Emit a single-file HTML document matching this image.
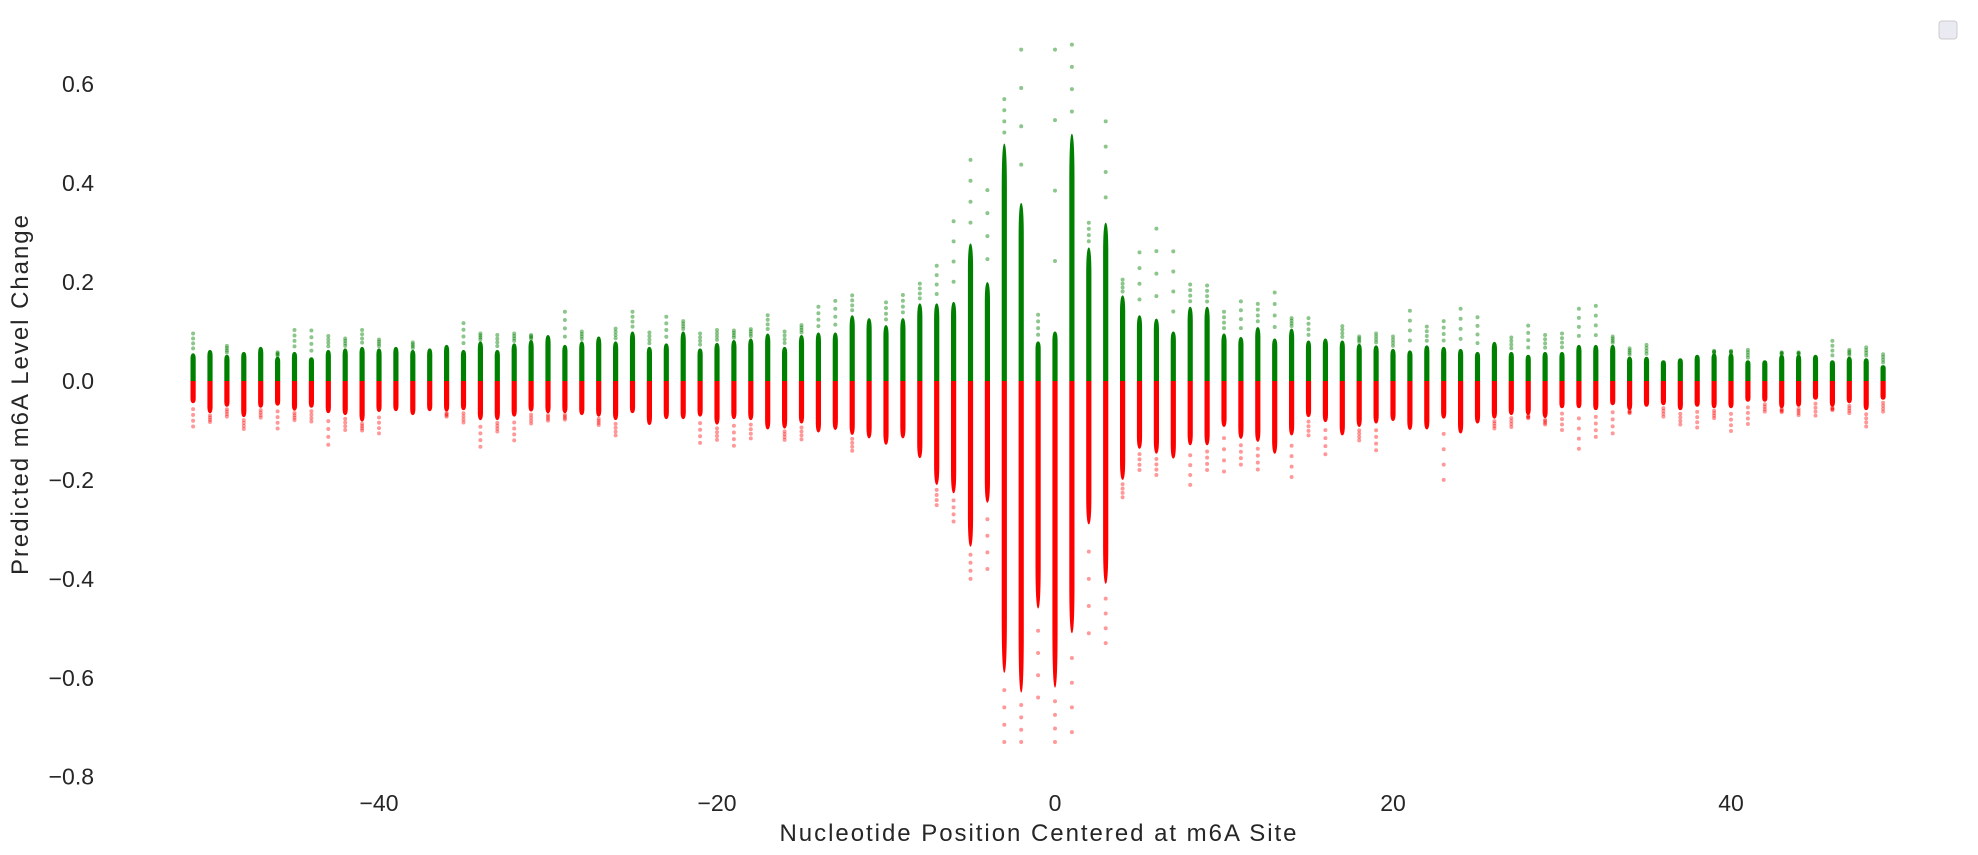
<!DOCTYPE html>
<html><head><meta charset="utf-8"><style>
html,body{margin:0;padding:0;background:#fff;}
svg{display:block;font-family:"Liberation Sans","DejaVu Sans",sans-serif;}
</style></head><body>
<svg id="chart" width="1978" height="855" viewBox="0 0 1978 855" xmlns="http://www.w3.org/2000/svg">
<rect width="1978" height="855" fill="#fff"/>
<g id="yticks"></g>
<g id="xticks"></g>
<g id="marks"></g>
<text x="1038" y="841" font-size="24" fill="#262626" text-anchor="middle" textLength="517">Nucleotide Position Centered at m6A Site</text>
<text transform="translate(28,395) rotate(-90)" font-size="24" fill="#262626" text-anchor="middle" textLength="360">Predicted m6A Level Change</text>
<rect x="1939" y="21" width="18" height="18" rx="3" fill="#eaeaf2" stroke="#cccccc" stroke-width="1"/>
</svg>
<script>
const positions = [-51,-50,-49,-48,-47,-46,-45,-44,-43,-42,-41,-40,-39,-38,-37,-36,-35,-34,-33,-32,-31,-30,-29,-28,-27,-26,-25,-24,-23,-22,-21,-20,-19,-18,-17,-16,-15,-14,-13,-12,-11,-10,-9,-8,-7,-6,-5,-4,-3,-2,-1,0,1,2,3,4,5,6,7,8,9,10,11,12,13,14,15,16,17,18,19,20,21,22,23,24,25,26,27,28,29,30,31,32,33,34,35,36,37,38,39,40,41,42,43,44,45,46,47,48,49];
const denseTop = [.056,.063,.053,.059,.069,.049,.059,.048,.063,.066,.069,.066,.069,.063,.066,.073,.063,.08,.063,.076,.083,.093,.073,.08,.09,.08,.1,.069,.076,.1,.066,.077,.083,.086,.096,.069,.093,.098,.098,.133,.127,.113,.127,.157,.157,.16,.278,.2,.48,.36,.08,.1,.5,.27,.32,.173,.133,.126,.1,.15,.15,.096,.089,.109,.086,.106,.082,.086,.082,.075,.072,.065,.062,.072,.069,.065,.059,.079,.059,.053,.059,.059,.073,.073,.073,.049,.049,.042,.046,.053,.056,.056,.042,.042,.053,.053,.053,.042,.049,.046,.032];
const maxVal = [.096,.063,.071,.059,.071,.058,.103,.102,.091,.086,.103,.084,.069,.078,.066,.073,.117,.096,.093,.096,.093,.096,.14,.1,.09,.106,.14,.098,.13,.121,.096,.103,.102,.105,.133,.1,.113,.15,.162,.173,.127,.159,.174,.197,.233,.323,.447,.386,.57,.67,.134,.67,.68,.32,.525,.205,.26,.308,.262,.195,.193,.14,.161,.156,.179,.127,.127,.088,.111,.09,.096,.09,.142,.11,.121,.146,.129,.079,.088,.112,.093,.096,.146,.152,.09,.066,.073,.042,.049,.056,.061,.061,.063,.044,.058,.058,.056,.081,.063,.068,.054];
const denseBottom = [-.045,-.065,-.052,-.073,-.054,-.05,-.06,-.054,-.065,-.069,-.082,-.063,-.061,-.069,-.061,-.062,-.059,-.079,-.079,-.072,-.062,-.065,-.065,-.069,-.072,-.079,-.065,-.089,-.077,-.077,-.072,-.088,-.077,-.079,-.098,-.096,-.086,-.104,-.099,-.109,-.116,-.129,-.116,-.156,-.21,-.227,-.335,-.246,-.59,-.63,-.46,-.62,-.51,-.29,-.41,-.2,-.137,-.147,-.157,-.13,-.13,-.093,-.117,-.123,-.147,-.11,-.073,-.083,-.11,-.093,-.086,-.081,-.099,-.098,-.076,-.106,-.086,-.076,-.069,-.069,-.075,-.055,-.055,-.059,-.049,-.059,-.052,-.049,-.059,-.052,-.055,-.055,-.042,-.042,-.055,-.052,-.038,-.052,-.045,-.059,-.038];
const minVal = [-.092,-.083,-.072,-.097,-.074,-.096,-.079,-.082,-.129,-.099,-.1,-.106,-.061,-.069,-.061,-.072,-.084,-.133,-.102,-.12,-.086,-.08,-.078,-.069,-.089,-.11,-.065,-.089,-.077,-.077,-.125,-.119,-.131,-.116,-.098,-.119,-.118,-.104,-.099,-.141,-.116,-.129,-.116,-.156,-.251,-.284,-.4,-.38,-.73,-.73,-.64,-.73,-.71,-.51,-.53,-.235,-.18,-.19,-.157,-.21,-.18,-.183,-.169,-.179,-.147,-.194,-.11,-.148,-.11,-.12,-.14,-.081,-.099,-.098,-.2,-.106,-.086,-.096,-.093,-.075,-.088,-.099,-.137,-.113,-.106,-.065,-.052,-.072,-.088,-.094,-.075,-.101,-.087,-.062,-.063,-.069,-.07,-.059,-.065,-.092,-.062];
const yTicks = [0.6,0.4,0.2,0.0,-0.2,-0.4,-0.6,-0.8];
const xTicks = [-40,-20,0,20,40];

const NS = "http://www.w3.org/2000/svg";
function xScale(v){ return 1055 + v * 16.9; }
function yScale(v){ return 381 - v * 494.6; }
function mk(tag, attrs, parent){ const e=document.createElementNS(NS,tag); for(const k in attrs) e.setAttribute(k,attrs[k]); parent.appendChild(e); return e; }
function fmt(v){ const s=Math.abs(v).toFixed(1); return (v<0?"\u2212":"")+s; }

const yg=document.getElementById('yticks');
yTicks.forEach(t=>{
  const el=mk('text',{x:94,y:yScale(t)+8,'font-size':23,fill:'#262626','text-anchor':'end'},yg);
  el.textContent=fmt(t);
  
  
});
const xg=document.getElementById('xticks');
xTicks.forEach(t=>{
  const el=mk('text',{x:xScale(t),y:811,'font-size':23,fill:'#262626','text-anchor':'middle'},xg);
  el.textContent=(t<0?"\u2212":"")+Math.abs(t);
  
  
});

const mg=document.getElementById('marks');
const fr=[0.25,0.5,0.75,1.0];
const hw=2.6;
positions.forEach((p,i)=>{
  const cx=xScale(p), y0=yScale(0);
  const g=mk('g',{},mg);
  
  
  const yt=yScale(denseTop[i]);
  const gp=mk('path',{d:`M${cx-hw},${y0} L${cx-hw},${y0-(y0-yt)*0.8} Q${cx-hw},${yt} ${cx},${yt} Q${cx+hw},${yt} ${cx+hw},${y0-(y0-yt)*0.8} L${cx+hw},${y0} Z`,fill:'#008000'},g);
  
  
  const yb=yScale(denseBottom[i]);
  const rp=mk('path',{d:`M${cx-hw},${y0} L${cx-hw},${y0+(yb-y0)*0.8} Q${cx-hw},${yb} ${cx},${yb} Q${cx+hw},${yb} ${cx+hw},${y0+(yb-y0)*0.8} L${cx+hw},${y0} Z`,fill:'#ff0000'},g);
  
  
  if(maxVal[i]>denseTop[i]+0.003){
    fr.forEach(f=>{
      const v=denseTop[i]+(maxVal[i]-denseTop[i])*f;
      const c=mk('circle',{cx:cx,cy:yScale(v),r:2,fill:'#008000','fill-opacity':0.45},g);
      
      
    });
  }
  if(minVal[i]<denseBottom[i]-0.003){
    fr.forEach(f=>{
      const v=denseBottom[i]+(minVal[i]-denseBottom[i])*f;
      const c=mk('circle',{cx:cx,cy:yScale(v),r:2,fill:'#ff0000','fill-opacity':0.4},g);
      
      
    });
  }
});
</script>
</body></html>
